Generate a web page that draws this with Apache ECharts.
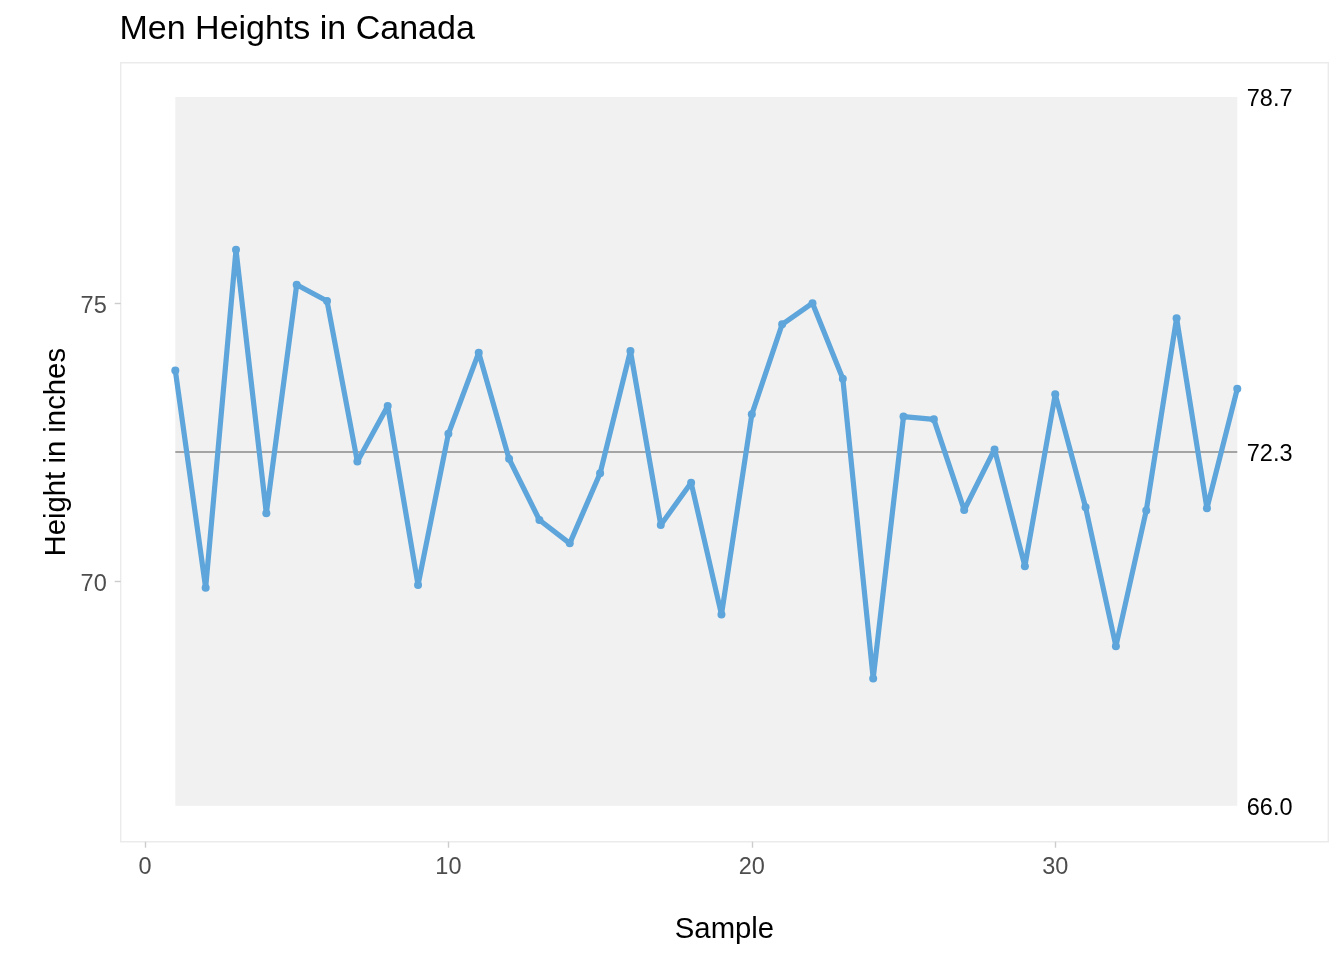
<!DOCTYPE html>
<html>
<head>
<meta charset="utf-8">
<script src="https://cdn.jsdelivr.net/npm/echarts@6/dist/echarts.min.js"></script>
<style>
  html, body { margin: 0; padding: 0; background: #ffffff; }
  #chart { width: 1344px; height: 960px; }
</style>
</head>
<body>
<div id="chart"></div>
<script>
// ---- Data ----
var samples = [1,2,3,4,5,6,7,8,9,10,11,12,13,14,15,16,17,18,19,20,21,22,23,24,25,26,27,28,29,30,31,32,33,34,35,36];
var heights = [73.80, 69.89, 75.97, 71.23, 75.34, 75.05, 72.16, 73.16, 69.94, 72.66,
               74.12, 72.21, 71.11, 70.69, 71.95, 74.15, 71.02, 71.78, 69.41, 73.01,
               74.63, 75.01, 73.65, 68.26, 72.97, 72.92, 71.29, 72.38, 70.28, 73.37,
               71.34, 68.84, 71.28, 74.74, 71.32, 73.47];
var centerLine = 72.34;
var upperLimit = 78.72;
var lowerLimit = 65.97;
var xTicks = [0, 10, 20, 30];
var yTicks = [70, 75];

var titleText = 'Men Heights in Canada';
var xTitle = 'Sample';
var yTitle = 'Height in inches';

var FONT = '"Liberation Sans", Arial, Helvetica, sans-serif';

var points = samples.map(function (s, i) { return [s, heights[i]]; });
var xFirst = samples[0];
var xLast = samples[samples.length - 1];

var chart = echarts.init(document.getElementById('chart'), null, { renderer: 'canvas' });

var gridLeft = 120.7, gridRight = 15.7, gridTop = 62.7, gridBottom = 118.3;

function limitLine(value, lineStyle) {
  return [
    {
      coord: [xFirst, value],
      lineStyle: lineStyle,
      label: {
        show: true, position: 'end', distance: 9.5,
        formatter: value.toFixed(1),
        offset: [0, 2.5],
        fontFamily: FONT, fontSize: 23.5, color: '#000000'
      }
    },
    { coord: [xLast, value] }
  ];
}

var option = {
  animation: false,
  backgroundColor: '#ffffff',
  title: {
    text: titleText,
    left: 119.5,
    top: 12.5,
    padding: 0,
    textStyle: { fontFamily: FONT, fontSize: 34, fontWeight: 'normal', color: '#000000' }
  },
  grid: {
    left: gridLeft, right: gridRight, top: gridTop, bottom: gridBottom,
    show: true, borderColor: '#ebebeb', borderWidth: 1.4, backgroundColor: '#ffffff'
  },
  xAxis: {
    type: 'value',
    min: -0.8,
    max: 39.0,
    axisLine: { show: false, onZero: false },
    splitLine: { show: false },
    axisTick: { show: true, length: 6, customValues: xTicks, lineStyle: { color: '#cccccc', width: 1.4 } },
    axisLabel: { customValues: xTicks, margin: 14, fontFamily: FONT, fontSize: 23.5, color: '#4d4d4d' }
  },
  yAxis: {
    type: 'value',
    min: 65.324,
    max: 79.335,
    axisLine: { show: false, onZero: false },
    splitLine: { show: false },
    axisTick: { show: true, length: 6, customValues: yTicks, lineStyle: { color: '#cccccc', width: 1.4 } },
    axisLabel: {
      customValues: yTicks, margin: 14,
      formatter: '{v|{value}}',
      rich: { v: { fontFamily: FONT, fontSize: 23.5, color: '#4d4d4d', padding: [6, 0, 0, 0] } }
    }
  },
  graphic: [
    {
      type: 'text',
      x: gridLeft + (1344 - gridLeft - gridRight) / 2,
      y: 930,
      style: { text: xTitle, fontFamily: FONT, fontSize: 29.3, fill: '#000000', align: 'center', verticalAlign: 'middle' }
    },
    {
      type: 'text',
      x: 57,
      y: gridTop + (960 - gridTop - gridBottom) / 2,
      rotation: Math.PI / 2,
      style: { text: yTitle, fontFamily: FONT, fontSize: 29.3, fill: '#000000', align: 'center', verticalAlign: 'middle' }
    }
  ],
  series: [
    {
      type: 'line',
      name: 'limits',
      z: 1,
      data: [],
      silent: true,
      markArea: {
        silent: true,
        z: 1,
        itemStyle: { color: '#f1f1f1' },
        data: [[{ coord: [xFirst, lowerLimit] }, { coord: [xLast, upperLimit] }]]
      },
      markLine: {
        silent: true,
        z: 2,
        symbol: ['none', 'none'],
        data: [
          limitLine(upperLimit, { color: 'rgba(0,0,0,0)', width: 1 }),
          limitLine(centerLine, { color: '#8a8a8a', width: 1.7, type: 'solid' }),
          limitLine(lowerLimit, { color: 'rgba(0,0,0,0)', width: 1 })
        ]
      }
    },
    {
      type: 'line',
      name: 'Height',
      z: 5,
      data: points,
      symbol: 'circle',
      symbolSize: 8,
      showSymbol: true,
      lineStyle: { color: '#5DA5DA', width: 5.2 },
      itemStyle: { color: '#5DA5DA' },
      emphasis: { disabled: true }
    }
  ]
};

chart.setOption(option);
</script>
</body>
</html>
